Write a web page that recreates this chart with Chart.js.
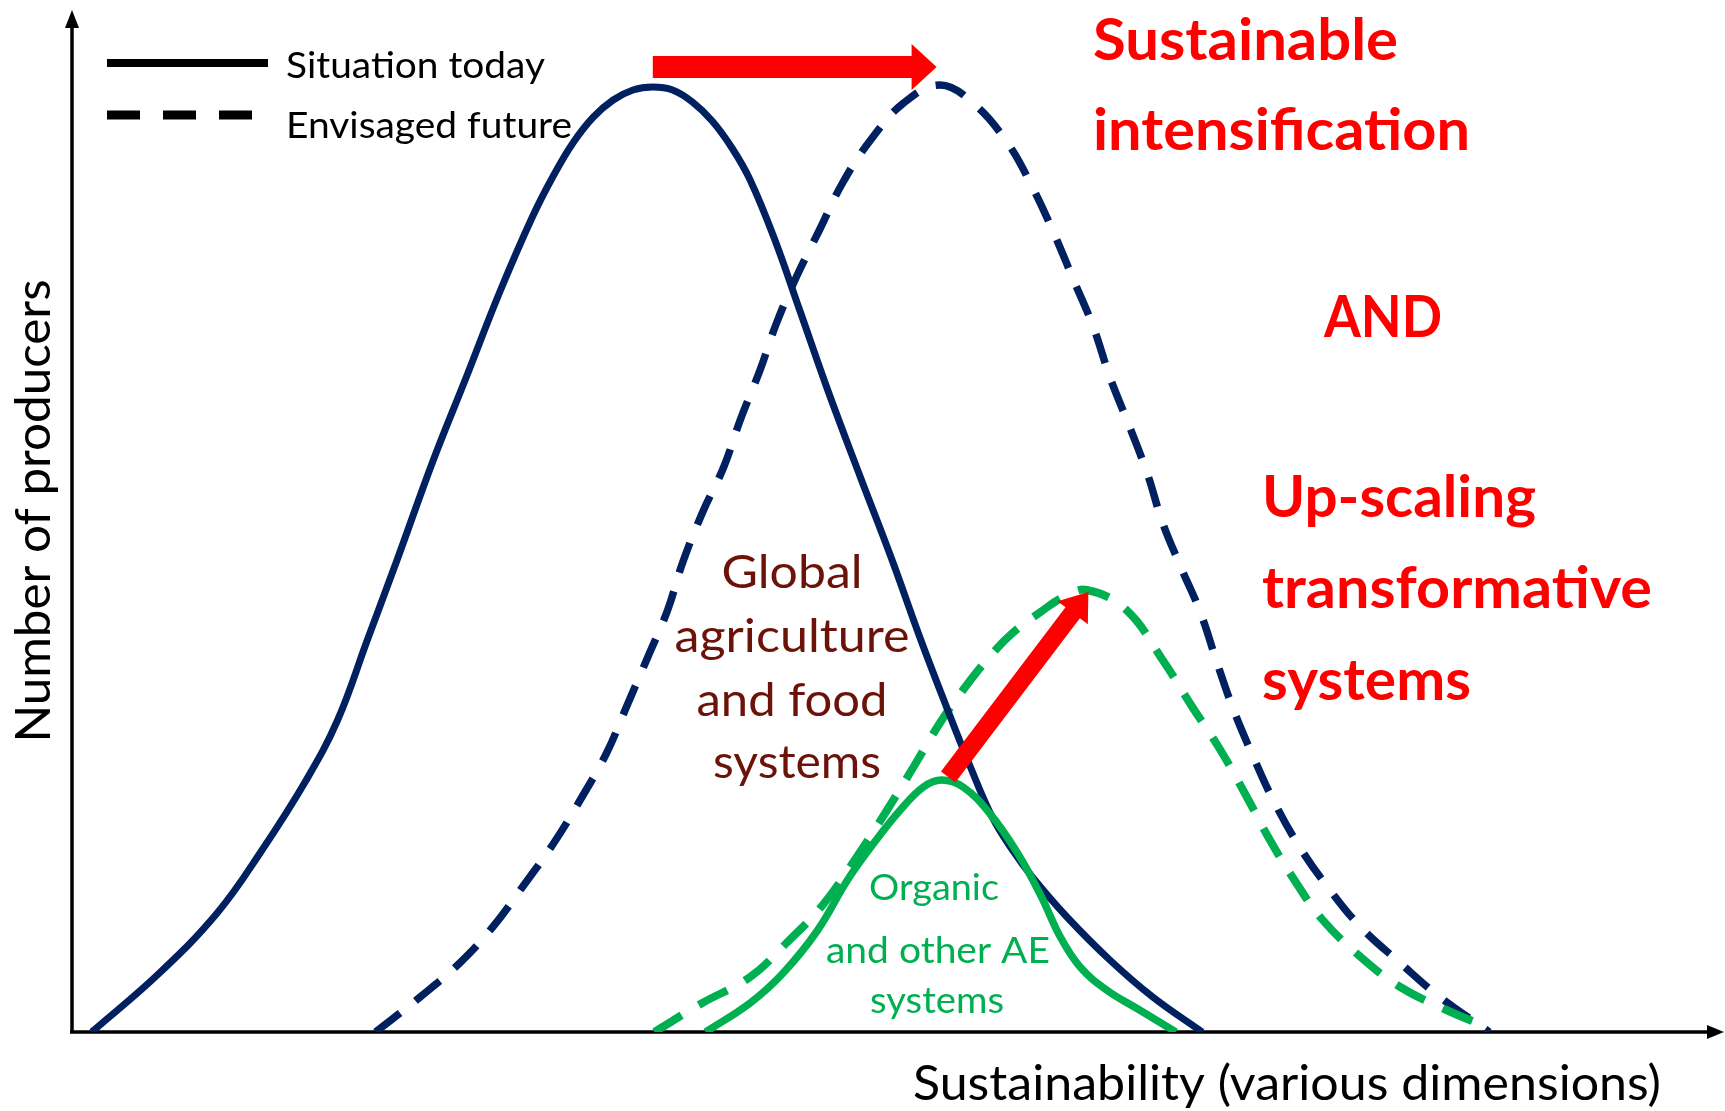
<!DOCTYPE html>
<html>
<head>
<meta charset="utf-8">
<title>Sustainability distribution</title>
<script src="https://cdn.jsdelivr.net/npm/chart.js@4.4.1/dist/chart.umd.min.js"></script>
<style>
  body { margin: 0; background: #fff; }
  canvas { display: block; }
</style>
</head>
<body>
<canvas id="myChart" width="1725" height="1111"></canvas>
<script>
// x = sustainability (0..100), y = number of producers (0..102)
var seriesNames = ['Situation today', 'Envisaged future'];

var todayMain = [
  [1.2, 0], [5.3, 5.9], [8.8, 11.9], [11.4, 17.9], [14.2, 25.2], [16.1, 31.2], [17.9, 39.2],
  [19.7, 47.2], [21.9, 57.2], [23.9, 65.5], [25.9, 73.9], [27.9, 81.5], [29.2, 85.7],
  [30.4, 89.0], [31.6, 91.5], [32.8, 93.2], [34.0, 94.2], [35.2, 94.5], [36.4, 94.2],
  [37.6, 93.0], [38.8, 91.1], [40.0, 88.4], [41.1, 85.2], [42.6, 79.2], [44.1, 72.2],
  [45.8, 64.2], [47.8, 55.4], [49.7, 47.2], [51.4, 39.4], [53.0, 32.5], [54.4, 26.7],
  [55.8, 21.4], [57.0, 18.2], [58.2, 15.5], [60.3, 11.5], [62.9, 7.2], [65.5, 3.5], [68.5, 0]
];

var futureMain = [
  [18.4, 0], [21.1, 3.5], [23.5, 6.9], [25.5, 10.5], [27.3, 14.5], [29.2, 18.9], [30.8, 23.2],
  [32.4, 27.9], [33.6, 32.5], [34.9, 37.5], [36.1, 42.2], [37.0, 46.9], [38.2, 51.9],
  [39.5, 56.5], [40.5, 61.2], [41.7, 66.2], [42.7, 70.9], [43.9, 75.5], [45.3, 80.2],
  [46.7, 84.9], [48.4, 89.2], [50.4, 92.9], [52.6, 94.7], [54.6, 92.9], [56.7, 88.9],
  [58.2, 84.5], [59.5, 79.9], [60.7, 75.2], [61.9, 70.5], [62.9, 65.5], [64.1, 60.5],
  [65.2, 55.7], [66.1, 50.9], [67.2, 46.5], [68.4, 41.9], [69.4, 36.9], [70.4, 32.2],
  [71.6, 27.5], [72.8, 23.2], [74.4, 18.5], [76.1, 14.5], [78.1, 10.5], [80.5, 6.9],
  [82.9, 3.5], [85.9, 0]
];

var todayAE = [
  [38.4, 0], [41.1, 2.9], [43.1, 5.9], [45.2, 10.2], [47.0, 15.2], [48.6, 18.9], [50.2, 22.2],
  [51.6, 24.5], [52.7, 25.2], [54.0, 24.5], [55.6, 21.9], [57.3, 17.9], [58.7, 13.7],
  [59.9, 9.5], [61.1, 6.5], [62.7, 4.2], [64.7, 2.2], [66.9, 0]
];

var futureAE = [
  [35.3, 0], [38.2, 2.9], [41.1, 5.5], [43.3, 8.9], [45.5, 12.7], [47.6, 17.6], [49.4, 22.2],
  [51.0, 26.5], [52.6, 30.9], [54.0, 34.2], [55.6, 37.5], [57.0, 39.9], [58.7, 42.0],
  [60.1, 43.5], [61.5, 44.2], [63.9, 42.2], [66.1, 37.2], [67.9, 32.5], [69.6, 28.2],
  [71.2, 23.5], [72.6, 19.2], [74.2, 14.9], [75.8, 11.2], [78.1, 7.5], [80.5, 4.5],
  [83.3, 2.2], [85.9, 0.4]
];

// arrows: shift of the whole distribution, and up-scaling of AE systems
var shiftArrow = [[35.2, 96.5], [52.4, 96.5]];
var upscaleArrow = [[53.1, 25.5], [61.6, 44.0]];

var NAVY = '#002060', GREEN = '#00b050', RED = '#ff0000', BROWN = '#6b1209';

function pts(a) {
  return a.map(function (p) { return { x: p[0], y: p[1] }; });
}

function txt(ctx, s, x, y, px, bold, color, align, w, rot) {
  ctx.save();
  ctx.font = (bold ? 'bold ' : '') + px + 'px Lato, "Open Sans", sans-serif';
  ctx.fillStyle = color;
  ctx.textBaseline = 'alphabetic';
  ctx.textAlign = align;
  var m = ctx.measureText(s).width;
  ctx.translate(x, y);
  if (rot) ctx.rotate(rot);
  ctx.scale(w ? w / m : 1, 1);
  ctx.fillText(s, 0, 0);
  ctx.restore();
}

function arrow(ctx, x1, y1, x2, y2, shaft, headW, headL) {
  var dx = x2 - x1, dy = y2 - y1, len = Math.sqrt(dx * dx + dy * dy);
  var ux = dx / len, uy = dy / len, nx = -uy, ny = ux;
  var bx = x2 - ux * headL, by = y2 - uy * headL;
  ctx.beginPath();
  ctx.moveTo(x1 + nx * shaft / 2, y1 + ny * shaft / 2);
  ctx.lineTo(bx + nx * shaft / 2, by + ny * shaft / 2);
  ctx.lineTo(bx + nx * headW / 2, by + ny * headW / 2);
  ctx.lineTo(x2, y2);
  ctx.lineTo(bx - nx * headW / 2, by - ny * headW / 2);
  ctx.lineTo(bx - nx * shaft / 2, by - ny * shaft / 2);
  ctx.lineTo(x1 - nx * shaft / 2, y1 - ny * shaft / 2);
  ctx.closePath();
  ctx.fillStyle = RED;
  ctx.fill();
}

var axesPlugin = {
  id: 'axesArrows',
  beforeDatasetsDraw: function (chart) {
    var ctx = chart.ctx, xs = chart.scales.x, ys = chart.scales.y;
    var x0 = xs.getPixelForValue(0), y0 = ys.getPixelForValue(0);
    var yTop = ys.getPixelForValue(ys.max), xEnd = chart.width - 1;
    ctx.save();
    ctx.strokeStyle = '#000';
    ctx.fillStyle = '#000';
    ctx.lineWidth = 3.5;
    ctx.beginPath();
    ctx.moveTo(x0, y0 + 1);
    ctx.lineTo(x0, yTop + 14);
    ctx.moveTo(x0 - 2, y0);
    ctx.lineTo(xEnd - 14, y0);
    ctx.stroke();
    ctx.beginPath();
    ctx.moveTo(x0, yTop - 2);
    ctx.lineTo(x0 - 7, yTop + 16);
    ctx.lineTo(x0 + 7, yTop + 16);
    ctx.closePath();
    ctx.fill();
    ctx.beginPath();
    ctx.moveTo(xEnd, y0);
    ctx.lineTo(xEnd - 17, y0 - 7);
    ctx.lineTo(xEnd - 17, y0 + 7);
    ctx.closePath();
    ctx.fill();
    ctx.restore();
  },
  afterDatasetsDraw: function (chart) {
    var ctx = chart.ctx, xs = chart.scales.x, ys = chart.scales.y;
    var a = chart.chartArea;
    ctx.save();
    arrow(ctx, xs.getPixelForValue(shiftArrow[0][0]), ys.getPixelForValue(shiftArrow[0][1]),
      xs.getPixelForValue(shiftArrow[1][0]), ys.getPixelForValue(shiftArrow[1][1]), 22, 46, 25);
    arrow(ctx, xs.getPixelForValue(upscaleArrow[0][0]), ys.getPixelForValue(upscaleArrow[0][1]),
      xs.getPixelForValue(upscaleArrow[1][0]), ys.getPixelForValue(upscaleArrow[1][1]), 18, 38, 26);

    // legend
    ctx.strokeStyle = '#000';
    ctx.lineWidth = 8;
    ctx.beginPath();
    ctx.moveTo(107, 63);
    ctx.lineTo(268, 63);
    ctx.stroke();
    ctx.lineWidth = 9;
    ctx.setLineDash([33, 23]);
    ctx.beginPath();
    ctx.moveTo(107, 115);
    ctx.lineTo(252, 115);
    ctx.stroke();
    ctx.setLineDash([]);
    txt(ctx, seriesNames[0], 286, 78, 37.5, false, '#000', 'left', 259);
    txt(ctx, seriesNames[1], 286, 138, 37.5, false, '#000', 'left', 286);

    // axis titles
    txt(ctx, 'Number of producers', 50, 511, 48, false, '#000', 'center', 463, -Math.PI / 2);
    txt(ctx, 'Sustainability (various dimensions)', 1661, a.bottom + 68, 48, false, '#000', 'right', 748);

    // labels inside the plot
    txt(ctx, 'Global', 792, 588, 47, false, BROWN, 'center', 141);
    txt(ctx, 'agriculture', 792, 652, 47, false, BROWN, 'center', 235);
    txt(ctx, 'and food', 792, 716, 47, false, BROWN, 'center', 191);
    txt(ctx, 'systems', 797, 778, 47, false, BROWN, 'center', 168);

    txt(ctx, 'Organic', 934, 900, 36, false, GREEN, 'center', 130);
    txt(ctx, 'and other AE', 938, 963, 36, false, GREEN, 'center', 224);
    txt(ctx, 'systems', 937, 1013, 36, false, GREEN, 'center', 134);

    txt(ctx, 'Sustainable', 1093, 60, 57, true, RED, 'left', 305);
    txt(ctx, 'intensification', 1093, 150, 57, true, RED, 'left', 377);
    txt(ctx, 'AND', 1324, 337, 57, true, RED, 'left', 118);
    txt(ctx, 'Up-scaling', 1262, 517, 57, true, RED, 'left', 274);
    txt(ctx, 'transformative', 1262, 608, 57, true, RED, 'left', 390);
    txt(ctx, 'systems', 1262, 700, 57, true, RED, 'left', 209);
    ctx.restore();
  }
};

var ctx = document.getElementById('myChart').getContext('2d');
var chart = new Chart(ctx, {
  type: 'line',
  data: {
    datasets: [{
      label: 'Organic and other AE systems - today',
      data: pts(todayAE),
      borderColor: GREEN,
      borderWidth: 7.5
    }, {
      label: 'Global agriculture and food systems - today',
      data: pts(todayMain),
      borderColor: NAVY,
      borderWidth: 7
    }, {
      label: 'Organic and other AE systems - future',
      data: pts(futureAE),
      borderColor: GREEN,
      borderWidth: 8,
      borderDash: [32, 20]
    }, {
      label: 'Global agriculture and food systems - future',
      data: pts(futureMain),
      borderColor: NAVY,
      borderWidth: 7.5,
      borderDash: [31, 20]
    }]
  },
  options: {
    responsive: false,
    animation: false,
    devicePixelRatio: 1,
    layout: { padding: { left: 72, right: 3, top: 12, bottom: 79 } },
    elements: {
      point: { radius: 0, hoverRadius: 0 },
      line: { tension: 0.4, fill: false, borderCapStyle: 'butt', capBezierPoints: false }
    },
    scales: {
      x: { type: 'linear', min: 0, max: 100, display: false },
      y: { type: 'linear', min: 0, max: 102, display: false }
    },
    plugins: {
      legend: { display: false },
      tooltip: { enabled: false }
    }
  },
  plugins: [axesPlugin]
});
</script>
</body>
</html>
